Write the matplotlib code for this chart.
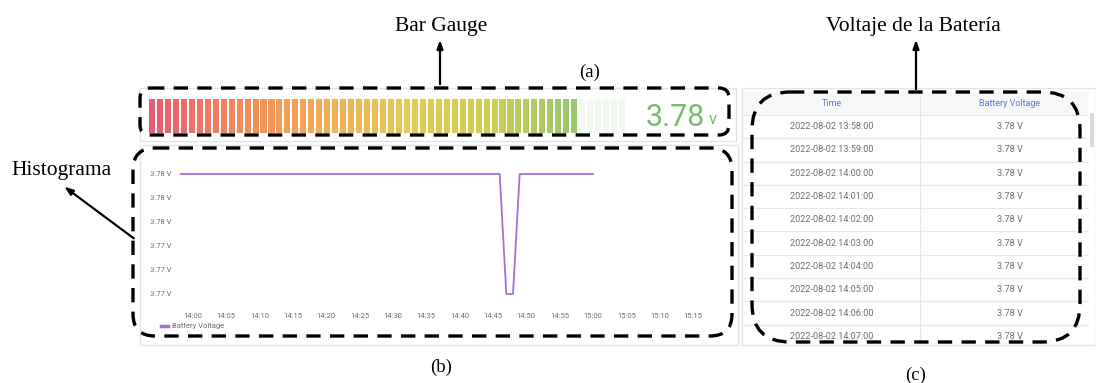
import numpy as np
import pandas as pd
import matplotlib
matplotlib.use("Agg")
import matplotlib.pyplot as plt
import matplotlib.dates as mdates
from matplotlib.patches import FancyBboxPatch, Rectangle
from matplotlib.colors import LinearSegmentedColormap

W, H = 1096, 383

# ---- data ----
gauge_value = 3.78
gauge_max = 4.2
gauge_segments = 60

series_start = "2022-08-02 13:58"
voltage = [3.78] * 49 + [3.77, 3.77] + [3.78] * 12   # one reading per minute, 13:58 .. 15:00
y_ticks = [3.770, 3.772, 3.774, 3.776, 3.778, 3.780]

table_times = ["2022-08-02 13:58:00", "2022-08-02 13:59:00", "2022-08-02 14:00:00",
               "2022-08-02 14:01:00", "2022-08-02 14:02:00", "2022-08-02 14:03:00",
               "2022-08-02 14:04:00", "2022-08-02 14:05:00", "2022-08-02 14:06:00",
               "2022-08-02 14:07:00"]
table_volts = [3.78, 3.78, 3.78, 3.78, 3.78, 3.78, 3.78, 3.78, 3.78, 3.78]

UI = "Roboto"
SERIF = "Liberation Serif"
PURPLE = "#a470d0"
GREEN = "#73bf69"
GRAY = "#6e6e6e"


def px(x0, y0, x1, y1):
    # pixel box -> figure fraction rect
    return [x0 / W, 1 - y1 / H, (x1 - x0) / W, (y1 - y0) / H]


fig = plt.figure(figsize=(W / 100, H / 100), dpi=100)
fig.patch.set_facecolor("white")

# ---- panel frames (background layer) ----
bg = fig.add_axes([0, 0, 1, 1], zorder=0)
bg.set_xlim(0, W)
bg.set_ylim(H, 0)
bg.axis("off")
for (x0, y0, x1, y1) in [(140, 88, 736, 141), (140, 145, 738, 345), (742, 88, 1096, 345)]:
    bg.add_patch(Rectangle((x0, y0), x1 - x0, y1 - y0, facecolor="white",
                           edgecolor="#e3e3e3", linewidth=1))

# ---- (a) bar gauge ----
gauge_cmap = LinearSegmentedColormap.from_list(
    "gauge", ["#e8435e", "#ef7a45", "#f0a03e", "#e6c03c", "#c9c83a", "#8cbf58"])
axg = fig.add_axes(px(148, 99, 626, 133), zorder=1)
lit = int(round(gauge_value / gauge_max * gauge_segments))
idx = np.arange(gauge_segments)
cols = [gauge_cmap(i / (lit - 1), alpha=0.88) if i < lit else (0.70, 0.86, 0.66, 0.16)
        for i in idx]
axg.bar(idx, np.ones(gauge_segments), width=0.76, color=cols)
axg.set_xlim(-0.5, gauge_segments - 0.5)
axg.set_ylim(0, 1)
axg.axis("off")
fig.text(705 / W, 1 - 117 / H, f"{gauge_value:.2f}", color=GREEN, fontsize=22,
         family=UI, ha="right", va="center")
fig.text(709 / W, 1 - 120 / H, "v", color=GREEN, fontsize=12,
         family=UI, ha="left", va="center")

# ---- (b) time series ----
times = pd.date_range(series_start, periods=len(voltage), freq="min")
axl = fig.add_axes(px(180, 165, 705, 303), zorder=1)
axl.plot(times, voltage, color=PURPLE, linewidth=1.3, label="Battery Voltage")
axl.set_xlim(pd.Timestamp("2022-08-02 13:58:03"), pd.Timestamp("2022-08-02 15:16:48"))
axl.set_ylim(3.76925, 3.78075)
axl.set_yticks(y_ticks)
axl.yaxis.set_major_formatter(plt.FuncFormatter(lambda v, p: f"{v:.2f} V"))
axl.xaxis.set_major_locator(mdates.MinuteLocator(byminute=range(0, 60, 5)))
axl.xaxis.set_major_formatter(mdates.DateFormatter("%H:%M"))
axl.tick_params(length=0, labelsize=5.5, labelcolor=GRAY, pad=6)
for lab in axl.get_xticklabels() + axl.get_yticklabels():
    lab.set_family(UI)
axl.tick_params(axis="x", pad=7)
for s in axl.spines.values():
    s.set_visible(False)
axl.legend(loc="lower left", bbox_to_anchor=(157 / W, 1 - 333 / H),
           bbox_transform=fig.transFigure, frameon=False, handlelength=1.0,
           handletextpad=0.5, prop={"family": UI, "size": 5.5}, labelcolor=GRAY,
           borderpad=0)
axl.get_legend().get_lines()[0].set_linewidth(2.5)

# ---- (c) table ----
axt = fig.add_axes(px(742, 88, 1096, 345), zorder=1)
axt.set_xlim(742, 1096)
axt.set_ylim(345, 88)
axt.axis("off")
head_top, head_h, row_h = 92, 23, 23.3
col_x = [832, 1010]
axt.add_patch(Rectangle((743, head_top), 345, head_h, facecolor="#f6f7f8", edgecolor="none"))
axt.text(col_x[0], head_top + head_h / 2, "Time", color="#5b7bd5", fontsize=6.5,
         family=UI, ha="center", va="center")
axt.text(col_x[1], head_top + head_h / 2, "Battery Voltage", color="#5b7bd5",
         fontsize=6.5, family=UI, ha="center", va="center")
axt.plot([920, 920], [head_top, 345], color="#e6e6e6", linewidth=0.8)
for i, (t, v) in enumerate(zip(table_times, table_volts)):
    y0 = head_top + head_h + i * row_h
    axt.plot([743, 1088], [y0, y0], color="#e8e8e8", linewidth=0.8)
    axt.text(col_x[0], y0 + row_h / 2, t, color=GRAY, fontsize=6.6, family=UI,
             ha="center", va="center", clip_on=True)
    axt.text(col_x[1], y0 + row_h / 2, f"{v:.2f} V", color=GRAY, fontsize=6.6,
             family=UI, ha="center", va="center", clip_on=True)
axt.add_patch(Rectangle((1090, 113), 4, 34, facecolor="#d8d8d8", edgecolor="none"))

# ---- annotation overlay ----
ov = fig.add_axes([0, 0, 1, 1], zorder=5)
ov.set_xlim(0, W)
ov.set_ylim(H, 0)
ov.axis("off")
ov.patch.set_alpha(0)

for (x0, y0, x1, y1, r) in [(140, 88, 729, 135, 10), (133, 148, 732, 336, 22),
                            (752, 92, 1080, 342, 38)]:
    ov.add_patch(FancyBboxPatch((x0, y0), x1 - x0, y1 - y0,
                                boxstyle=f"round,pad=0,rounding_size={r}",
                                facecolor="none", edgecolor="black", linewidth=2.4,
                                linestyle=(0, (4.3, 2.8))))

arrow = dict(arrowstyle="-|>,head_length=0.5,head_width=0.18", color="black", lw=1.6)
ov.annotate("", xy=(440, 37), xytext=(440, 87), arrowprops=arrow)
ov.annotate("", xy=(916, 37), xytext=(916, 92), arrowprops=arrow)
ov.annotate("", xy=(62, 185), xytext=(136, 240), arrowprops=arrow)

ov.text(441, 26, "Bar Gauge", family=SERIF, fontsize=15.5, ha="center", va="center")
ov.text(913, 26, "Voltaje de la Batería", family=SERIF, fontsize=15.5, ha="center", va="center")
ov.text(62, 170, "Histograma", family=SERIF, fontsize=15.5, ha="center", va="center")
ov.text(590, 72, "(a)", family=SERIF, fontsize=13.5, ha="center", va="center")
ov.text(441, 367, "(b)", family=SERIF, fontsize=13.5, ha="center", va="center")
ov.text(916, 375, "(c)", family=SERIF, fontsize=13.5, ha="center", va="center")

fig.savefig("out.png", dpi=100)
